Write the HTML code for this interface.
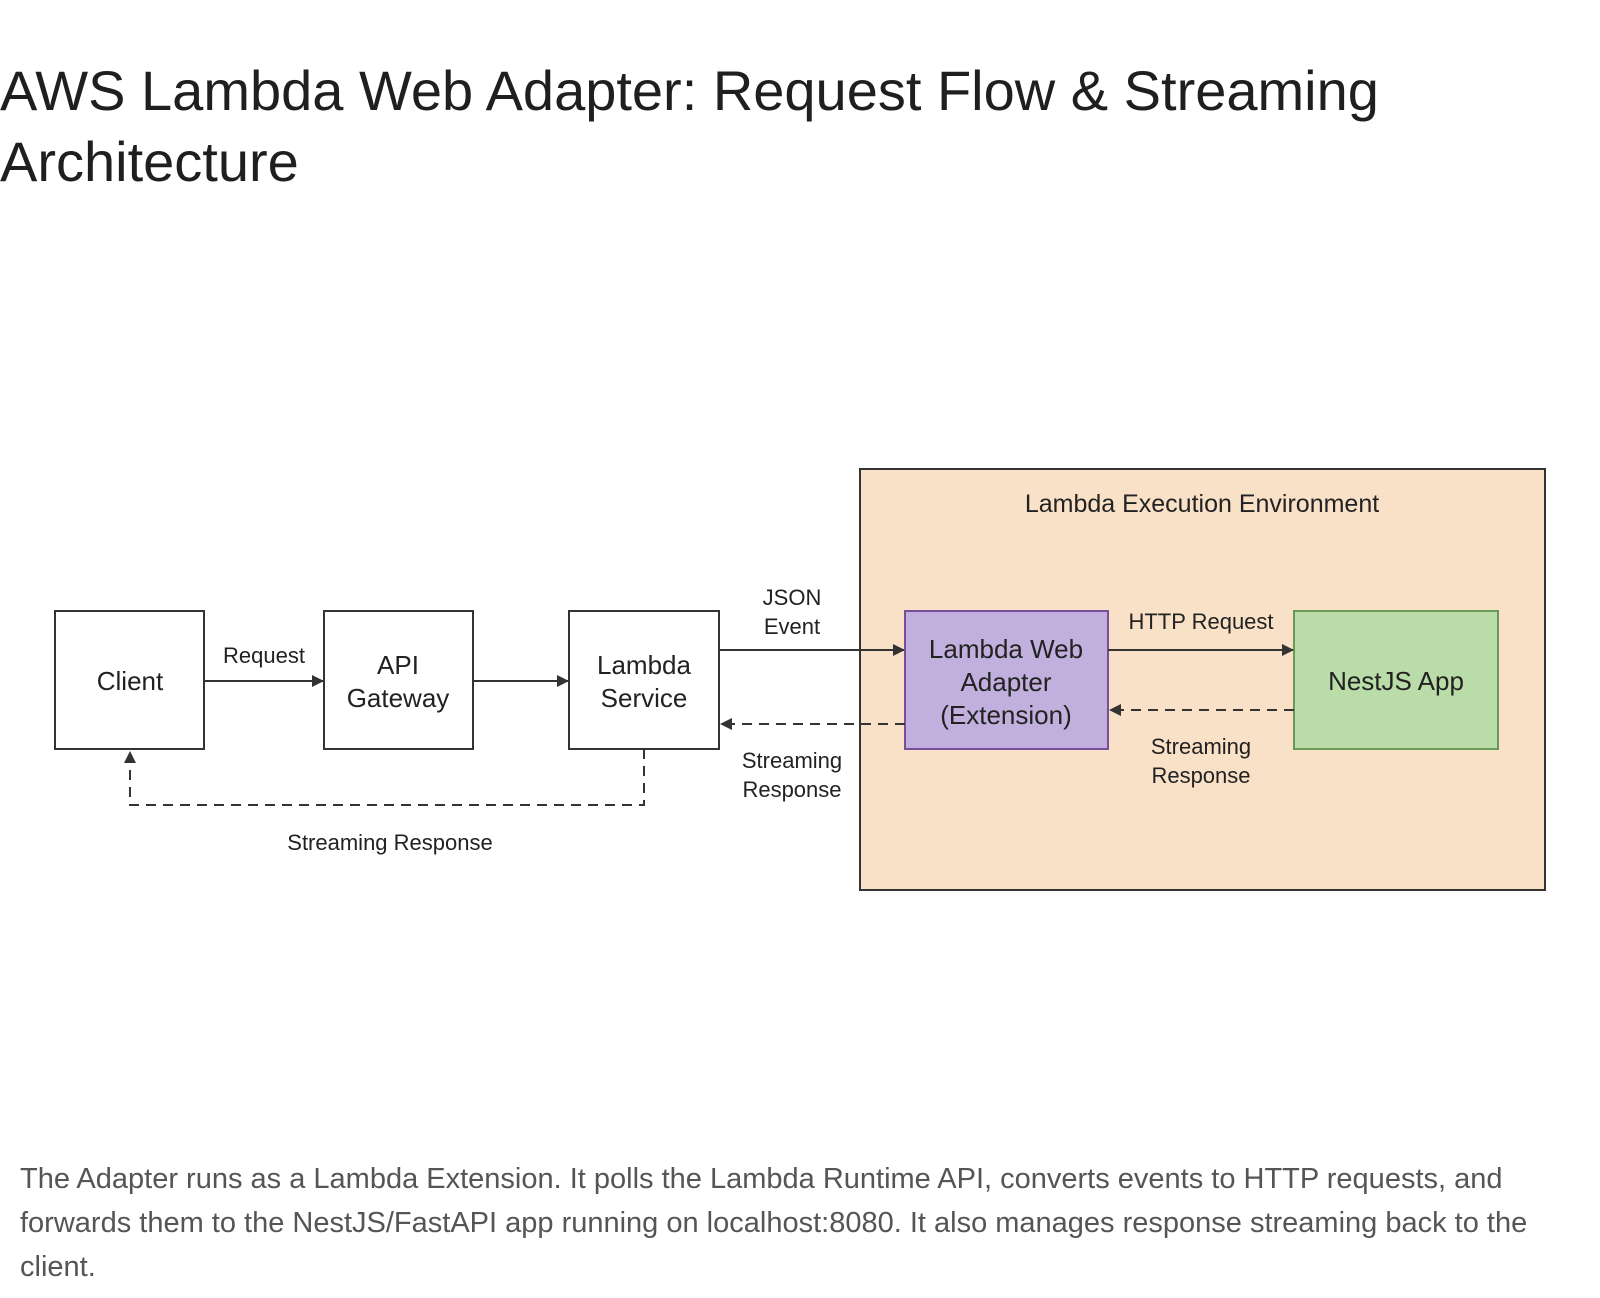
<!DOCTYPE html>
<html><head><meta charset="utf-8"><style>
html,body{margin:0;padding:0;background:#fff;width:1600px;height:1298px;overflow:hidden}
.t{position:absolute;left:0;top:55px;font-family:"Liberation Sans",sans-serif;font-size:56px;line-height:71px;color:#1f1f1f;width:1500px}
.c{position:absolute;left:20px;top:1157px;font-family:"Liberation Sans",sans-serif;font-size:29px;line-height:44px;color:#555;width:1570px}
svg{position:absolute;left:0;top:0}
</style></head><body>
<div class="t">AWS Lambda Web Adapter: Request Flow &amp; Streaming<br>Architecture</div>
<svg width="1600" height="1100" font-family="Liberation Sans, sans-serif" fill="#222">
<defs><marker id="a" markerWidth="12" markerHeight="12" refX="11" refY="6" orient="auto" markerUnits="userSpaceOnUse"><path d="M0,0L12,6L0,12z" fill="#333"/></marker></defs>
<rect x="860" y="469" width="685" height="421" fill="#f9e1c8" stroke="#333" stroke-width="2"/>
<text x="1202" y="512" font-size="25" text-anchor="middle">Lambda Execution Environment</text>
<g stroke="#333" stroke-width="2" fill="#fff">
<rect x="55" y="611" width="149" height="138"/>
<rect x="324" y="611" width="149" height="138"/>
<rect x="569" y="611" width="150" height="138"/>
</g>
<rect x="905" y="611" width="203" height="138" fill="#c1b0dd" stroke="#7a4f9a" stroke-width="2"/>
<rect x="1294" y="611" width="204" height="138" fill="#b9dca9" stroke="#6a9a5a" stroke-width="2"/>
<g font-size="26" text-anchor="middle">
<text x="130" y="690">Client</text>
<text x="398" y="674">API</text><text x="398" y="707">Gateway</text>
<text x="644" y="674">Lambda</text><text x="644" y="707">Service</text>
<text x="1006" y="658">Lambda Web</text><text x="1006" y="691">Adapter</text><text x="1006" y="724">(Extension)</text>
<text x="1396" y="690">NestJS App</text>
</g>
<g stroke="#333" stroke-width="2" fill="none">
<line x1="204" y1="681" x2="323" y2="681" marker-end="url(#a)"/>
<line x1="473" y1="681" x2="568" y2="681" marker-end="url(#a)"/>
<line x1="719" y1="650" x2="904" y2="650" marker-end="url(#a)"/>
<line x1="1108" y1="650" x2="1293" y2="650" marker-end="url(#a)"/>
<g stroke-dasharray="10,7">
<line x1="1294" y1="710" x2="1110" y2="710" marker-end="url(#a)"/>
<line x1="905" y1="724" x2="721" y2="724" marker-end="url(#a)"/>
<polyline points="644,749 644,805 130,805 130,752" marker-end="url(#a)"/>
</g>
</g>
<g font-size="22" text-anchor="middle">
<text x="264" y="663">Request</text>
<text x="792" y="605">JSON</text><text x="792" y="634">Event</text>
<text x="792" y="768">Streaming</text><text x="792" y="797">Response</text>
<text x="1201" y="629">HTTP Request</text>
<text x="1201" y="754">Streaming</text><text x="1201" y="783">Response</text>
<text x="390" y="850">Streaming Response</text>
</g>
</svg>
<div class="c">The Adapter runs as a Lambda Extension. It polls the Lambda Runtime API, converts events to HTTP requests, and forwards them to the NestJS/FastAPI app running on localhost:8080. It also manages response streaming back to the client.</div>
</body></html>
